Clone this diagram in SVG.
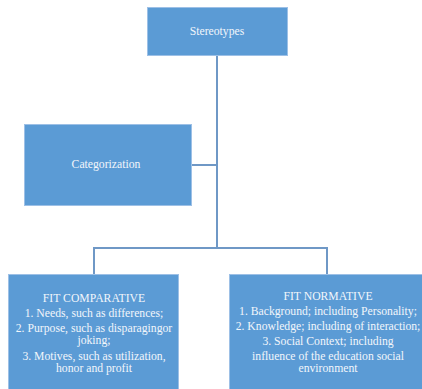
<svg xmlns="http://www.w3.org/2000/svg" width="422" height="389" viewBox="0 0 422 389">
<style>
.box{fill:#5B9BD5;stroke:#9DC0E6;stroke-width:1}
.t{font-family:"Liberation Serif","Times New Roman",serif;font-size:11.7px;fill:#F2F6FB;text-anchor:middle}
.ln{stroke:#6F98C6;stroke-width:2;fill:none}
</style>
<rect width="422" height="389" fill="#FFFFFF"/>
<g id="connectors">
<path class="ln" d="M217 56 V248"/>
<path class="ln" d="M192 165 H217"/>
<path class="ln" d="M94 274 V248 H327 V274"/>
</g>
<g id="stereotypes">
<rect class="box" x="147.5" y="7.5" width="140" height="48"/>
<text class="t" x="217" y="35">Stereotypes</text>
</g>
<g id="categorization">
<rect class="box" x="24.5" y="124.5" width="167" height="81"/>
<text class="t" x="106" y="168">Categorization</text>
</g>
<g id="fit-comparative">
<rect class="box" x="8.5" y="274.5" width="170" height="120"/>
<text class="t" x="94" y="302">FIT COMPARATIVE</text>
<text class="t" x="94" y="317">1. Needs, such as differences;</text>
<text class="t" x="94" y="332">2. Purpose, such as disparagingor</text>
<text class="t" x="94" y="344">joking;</text>
<text class="t" x="94" y="360">3. Motives, such as utilization,</text>
<text class="t" x="94" y="372">honor and profit</text>
</g>
<g id="fit-normative">
<rect class="box" x="229.5" y="274.5" width="200" height="120"/>
<text class="t" x="328" y="300">FIT NORMATIVE</text>
<text class="t" x="328" y="315">1. Background; including Personality;</text>
<text class="t" x="328" y="330">2. Knowledge; including of interaction;</text>
<text class="t" x="328" y="345">3. Social Context; including</text>
<text class="t" x="328" y="360">influence of the education social</text>
<text class="t" x="328" y="372">environment</text>
</g>
</svg>
